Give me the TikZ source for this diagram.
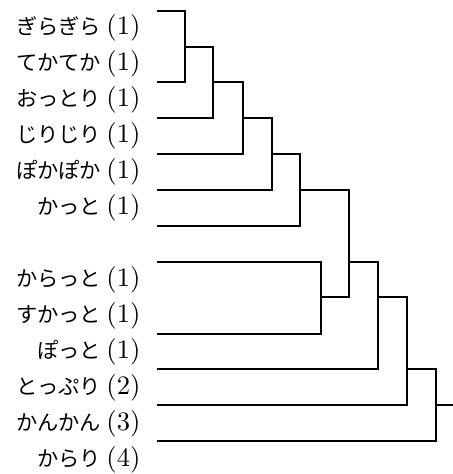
\documentclass[tikz,border=0pt]{standalone}
\usepackage{fontspec}
\newfontfamily\jpfont[Scale=0.8]{Noto Sans CJK JP}
\newcommand{\jpw}[1]{{\jpfont #1}\kern2pt}
\usepackage{tikz}
\usetikzlibrary{positioning, calc}

\begin{document}
\begin{tikzpicture}[
    x=0.376pt, y=-0.376pt,
    leaflabel/.style={anchor=east, inner sep=0pt, text height=7.5pt, text depth=2.5pt, font=\normalsize},
    branch/.style={draw, line width=0.4pt},
]
\useasboundingbox (0,0) rectangle (453,474);

% ======== LABELS ========
\node[leaflabel] (t1)  at (141,28)  {\jpw{ぎらぎら}(1)};
\node[leaflabel] (t2)  at (141,64)  {\jpw{てかてか}(1)};
\node[leaflabel] (t3)  at (141,100) {\jpw{おっとり}(1)};
\node[leaflabel] (t4)  at (141,136) {\jpw{じりじり}(1)};
\node[leaflabel] (t5)  at (141,172) {\jpw{ぽかぽか}(1)};
\node[leaflabel] (t6)  at (141,208) {\jpw{かっと}(1)};
\node[leaflabel] (t7)  at (141,280) {\jpw{からっと}(1)};
\node[leaflabel] (t8)  at (141,316) {\jpw{すかっと}(1)};
\node[leaflabel] (t9)  at (141,352) {\jpw{ぽっと}(1)};
\node[leaflabel] (t10) at (141,388) {\jpw{とっぷり}(2)};
\node[leaflabel] (t11) at (141,424) {\jpw{かんかん}(3)};
\node[leaflabel] (t12) at (141,460) {\jpw{からり}(4)};

% ======== LEAVES ========
\coordinate (l1)  at (157,11);
\coordinate (l2)  at (157,82);
\coordinate (l3)  at (157,118);
\coordinate (l4)  at (157,154);
\coordinate (l5)  at (157,190);
\coordinate (l6)  at (157,226);
\coordinate (l7)  at (157,262);
\coordinate (l8)  at (157,334);
\coordinate (l9)  at (157,369);
\coordinate (l10) at (157,405);
\coordinate (l11) at (157,441);

% ======== MERGES ========
\coordinate (m1)  at (185,47);
\coordinate (m2)  at (213,82);
\coordinate (m3)  at (243,118);
\coordinate (m4)  at (272,154);
\coordinate (m5)  at (300,190);
\coordinate (m6)  at (321,297);
\coordinate (m7)  at (349,262);
\coordinate (m8)  at (378,297);
\coordinate (m9)  at (407,369);
\coordinate (m10) at (436,405);
\coordinate (root) at (453,405);

\draw[branch] (l1) -| (m1);
\draw[branch] (l2) -| (m1);
\draw[branch] (m1) -| (m2);
\draw[branch] (l3) -| (m2);
\draw[branch] (m2) -| (m3);
\draw[branch] (l4) -| (m3);
\draw[branch] (m3) -| (m4);
\draw[branch] (l5) -| (m4);
\draw[branch] (m4) -| (m5);
\draw[branch] (l6) -| (m5);
\draw[branch] (l7) -| (m6);
\draw[branch] (l8) -| (m6);
\draw[branch] (m5) -| (m7);
\draw[branch] (m6) -| (m7);
\draw[branch] (m7) -| (m8);
\draw[branch] (l9) -| (m8);
\draw[branch] (m8) -| (m9);
\draw[branch] (l10) -| (m9);
\draw[branch] (m9) -| (m10);
\draw[branch] (l11) -| (m10);
\draw[branch] (m10) -- (root);

\end{tikzpicture}
\end{document}
